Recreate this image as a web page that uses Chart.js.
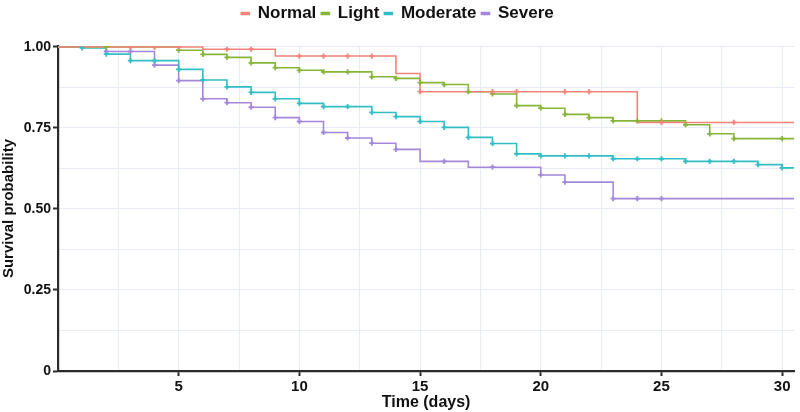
<!DOCTYPE html>
<html>
<head>
<meta charset="utf-8">
<script src="https://cdn.jsdelivr.net/npm/chart.js@4"></script>
<style>
html,body{margin:0;padding:0;background:#fff;}
#wrap{width:800px;height:412px;}
</style>
</head>
<body>
<div id="wrap"><canvas id="c" width="800" height="412"></canvas></div>
<script>
// Days 0..30: survival probability after each day
const days = [0,1,2,3,4,5,6,7,8,9,10,11,12,13,14,15,16,17,18,19,20,21,22,23,24,25,26,27,28,29,30];
const normalSurv   = [1,1,1,1,1,1,0.993,0.993,0.993,0.972,0.972,0.972,0.972,0.972,0.918,0.862,0.862,0.862,0.862,0.862,0.862,0.862,0.862,0.862,0.767,0.767,0.767,0.767,0.767,0.767,0.767];
const lightSurv    = [1,1,1,1,1,0.99,0.977,0.968,0.951,0.936,0.928,0.923,0.923,0.908,0.903,0.89,0.884,0.862,0.855,0.819,0.811,0.792,0.782,0.772,0.772,0.772,0.76,0.732,0.717,0.717,0.717];
const moderateSurv = [1,0.997,0.978,0.958,0.958,0.931,0.898,0.877,0.86,0.84,0.826,0.816,0.816,0.798,0.785,0.77,0.752,0.721,0.702,0.67,0.664,0.664,0.664,0.655,0.655,0.655,0.647,0.647,0.647,0.637,0.627];
const severeSurv   = [1,1,0.986,0.986,0.944,0.896,0.84,0.828,0.814,0.782,0.77,0.736,0.719,0.703,0.684,0.647,0.647,0.629,0.629,0.629,0.605,0.583,0.583,0.532,0.532,0.532,0.532,0.532,0.532,0.532,0.532];
// Censoring marks (days)
const normalMarks   = [3,4,5,7,8,10,11,12,13,15,18,19,21,22,25,28];
const lightMarks    = [2,3,4,5,6,7,8,9,10,11,12,13,14,15,16,17,18,19,20,21,22,23,24,25,26,27,28,30];
const moderateMarks = [1,2,3,4,5,6,7,8,9,10,11,12,13,14,15,16,17,18,19,20,21,22,23,24,25,26,27,28,29,30];
const severeMarks   = [2,3,4,5,6,7,8,9,10,11,12,13,14,16,18,20,21,23,24,25];
const groupNames = ["Normal","Light","Moderate","Severe"];
const groupColors = ["#F2847C","#86B53A","#33BEC6","#A488DA"];
const xTicks = [0,2.5,5,7.5,10,12.5,15,17.5,20,22.5,25,27.5,30];
const yTicks = [0,0.125,0.25,0.375,0.5,0.625,0.75,0.875,1];
const yLabels = {"0":"0","0.25":"0.25","0.5":"0.50","0.75":"0.75","1":"1.00"};
const X_MAX = 30.5;

const survs = [normalSurv, lightSurv, moderateSurv, severeSurv];
const marks = [normalMarks, lightMarks, moderateMarks, severeMarks];

const datasets = [];
survs.forEach((s, i) => {
  const pts = days.map((d, k) => ({x: d, y: s[k]}));
  pts.push({x: X_MAX, y: s[s.length - 1]});
  datasets.push({
    label: groupNames[i], data: pts, stepped: 'before', xAxisID: 'x', yAxisID: 'y',
    borderColor: groupColors[i], backgroundColor: groupColors[i],
    borderWidth: 1.6, pointRadius: 0, fill: false, order: 1
  });
});
marks.forEach((m, i) => {
  datasets.push({
    label: groupNames[i] + ' censor', isMark: true, xAxisID: 'x', yAxisID: 'y',
    data: m.map(d => ({x: d, y: survs[i][days.indexOf(d)]})),
    showLine: false, pointStyle: 'cross', pointRadius: 2.6, pointBorderWidth: 1.8,
    borderColor: groupColors[i], backgroundColor: groupColors[i], order: 0
  });
});

const FONT = "'Liberation Sans', Arial, sans-serif";
const AXIS = '#2b2b2b';
const GRID = '#e7ebf3';

new Chart(document.getElementById('c'), {
  type: 'line',
  data: { datasets },
  options: {
    responsive: false,
    animation: false,
    layout: { padding: { left: 0, right: 5, top: 0, bottom: 0 } },
    plugins: {
      legend: {
        display: true, position: 'top',
        labels: {
          filter: (item, data) => !data.datasets[item.datasetIndex].isMark,
          boxWidth: 8, boxHeight: 2, padding: 5,
          color: '#111',
          font: { family: FONT, size: 17, weight: 'bold' }
        }
      },
      tooltip: { enabled: false }
    },
    scales: {
      x: {
        type: 'linear', min: 0, max: X_MAX,
        afterBuildTicks: s => { s.ticks = xTicks.map(v => ({value: v})); },
        afterFit: s => { s.height = 41; },
        grid: {
          color: GRID, lineWidth: 1, tickLength: 5, tickWidth: 2,
          tickColor: ctx => (ctx.tick && ctx.tick.value > 0 && ctx.tick.value % 5 === 0) ? AXIS : 'rgba(0,0,0,0)'
        },
        border: { display: true, color: AXIS, width: 2.2 },
        ticks: {
          autoSkip: false, maxRotation: 0, padding: 2,
          color: '#111', font: { family: FONT, size: 15, weight: 'bold' },
          callback: v => (v > 0 && v % 5 === 0) ? String(v) : ''
        },
        title: {
          display: true, text: 'Time (days)', color: '#111', padding: { top: 0, bottom: 0 },
          font: { family: FONT, size: 16, weight: 'bold' }
        }
      },
      xTop: {
        type: 'linear', position: 'top', display: true, min: 0, max: 1,
        grid: { display: false }, border: { display: false },
        ticks: { display: false },
        afterFit: s => { s.height = 14; }
      },
      y: {
        type: 'linear', min: 0, max: 1.003,
        afterBuildTicks: s => { s.ticks = yTicks.map(v => ({value: v})); },
        afterFit: s => { s.width = 58; },
        grid: {
          color: GRID, lineWidth: 1, tickLength: 5, tickWidth: 2,
          tickColor: ctx => (ctx.tick && yLabels[String(ctx.tick.value)] !== undefined) ? AXIS : 'rgba(0,0,0,0)'
        },
        border: { display: true, color: AXIS, width: 2.2 },
        ticks: {
          autoSkip: false, padding: 2,
          color: '#111', font: { family: FONT, size: 14, weight: 'bold' },
          callback: v => yLabels[String(v)] !== undefined ? yLabels[String(v)] : ''
        },
        title: {
          display: true, text: 'Survival probability', color: '#111', padding: { top: 0, bottom: 5 },
          font: { family: FONT, size: 15, weight: 'bold' }
        }
      }
    }
  }
});
</script>
</body>
</html>
